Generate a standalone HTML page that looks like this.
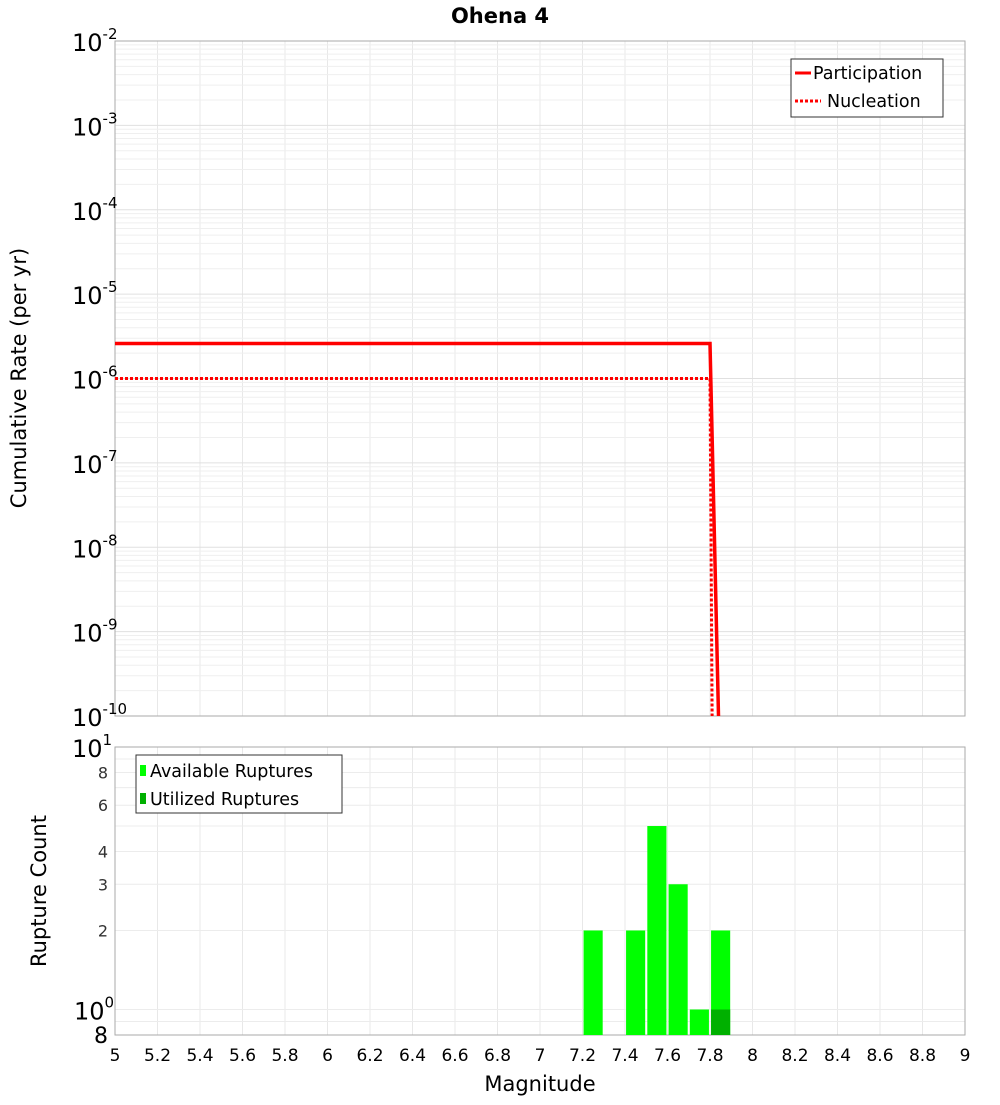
<!DOCTYPE html>
<html><head><meta charset="utf-8"><style>
body{margin:0;background:#fff;}
svg text{font-family:"DejaVu Sans","Liberation Sans",sans-serif;}
</style></head><body>
<svg id="c" width="1000" height="1100" xmlns="http://www.w3.org/2000/svg">
<text x="500" y="23" text-anchor="middle" font-size="21" font-weight="bold">Ohena 4</text>
<g id="grid"></g>
<rect x="115" y="41" width="850" height="675" fill="none" stroke="#aaa"/>
<rect x="115" y="747" width="850" height="288" fill="none" stroke="#aaa"/>
<g id="marks"></g>
<g id="ticks"></g>
<text transform="translate(26,378) rotate(-90)" text-anchor="middle" font-size="21">Cumulative Rate (per yr)</text>
<text transform="translate(46,891) rotate(-90)" text-anchor="middle" font-size="21">Rupture Count</text>
<text x="540" y="1091" text-anchor="middle" font-size="21">Magnitude</text>
<g>
<rect x="791" y="59" width="152" height="58" fill="#fff" stroke="#333"/>
<line x1="795" y1="73" x2="811" y2="73" stroke="#f00" stroke-width="3"/>
<text x="813" y="79" font-size="17.5">Participation</text>
<line x1="795" y1="101" x2="821" y2="101" stroke="#f00" stroke-width="3" stroke-dasharray="3,2"/>
<text x="827" y="107" font-size="17.5">Nucleation</text>
</g>
<g>
<rect x="136" y="755" width="206" height="58" fill="#fff" stroke="#333"/>
<rect x="140" y="765" width="6" height="11" fill="#00ff00"/>
<text x="150" y="777" font-size="17.5">Available Ruptures</text>
<rect x="140" y="793" width="6" height="11" fill="#00b000"/>
<text x="150" y="805" font-size="17.5">Utilized Ruptures</text>
</g>
</svg>
<script>
const partMag=[5.0,7.8,7.84];
const partRate=[2.6e-6,2.6e-6,1e-10];
const nuclMag=[5.0,7.8,7.81];
const nuclRate=[1e-6,1e-6,1e-10];
const binMag=[7.25,7.45,7.55,7.65,7.75,7.85];
const availCount=[2,2,5,3,1,2];
const usedMag=[7.85];
const usedCount=[1];
const xTicks=[5,5.2,5.4,5.6,5.8,6,6.2,6.4,6.6,6.8,7,7.2,7.4,7.6,7.8,8,8.2,8.4,8.6,8.8,9];
const topExps=[-2,-3,-4,-5,-6,-7,-8,-9,-10];
const botTicks=[2,3,4,6,8];
const NS="http://www.w3.org/2000/svg";
const X=m=>115+(m-5)*212.5;
const YT=v=>41+(-2-Math.log10(v))*84.375;
const YB=v=>747+(1-Math.log10(v))*262.5;
function mk(p,t,a){const e=document.createElementNS(NS,t);for(const k in a)e.setAttribute(k,a[k]);p.appendChild(e);return e;}
const g=document.getElementById('grid'),mG=document.getElementById('marks'),tG=document.getElementById('ticks');
xTicks.forEach(m=>{
 const l1=mk(g,'line',{x1:X(m),x2:X(m),y1:41,y2:716,stroke:'#e8e8e8'});
 
 
 const l2=mk(g,'line',{x1:X(m),x2:X(m),y1:747,y2:1035,stroke:'#e8e8e8'});
 
 
 const t=mk(tG,'text',{x:X(m),y:1061,'text-anchor':'middle','font-size':17});
 
 
 t.textContent=String(m);
});
for(let e=-10;e<-2;e++)for(let k=1;k<10;k++){
 const y=YT(k*Math.pow(10,e));
 const l=mk(g,'line',{x1:115,x2:965,y1:y,y2:y,stroke:k==1?'#e0e0e0':'#efefef'});
 
 
}
[0.8,0.9,1,2,3,4,5,6,7,8,9].forEach(v=>{
 const l=mk(g,'line',{x1:115,x2:965,y1:YB(v),y2:YB(v),stroke:'#ececec'});
 
 
});
topExps.forEach(e=>{
 const y=YT(Math.pow(10,e));
 const t=mk(tG,'text',{x:72,y:y+10,'font-size':24});
 
 
 t.innerHTML='10<tspan dy="-12" font-size="15">'+e+'</tspan>';
});
[[10,'10','1'],[1,'10','0']].forEach(([v,b,s])=>{
 const t=mk(tG,'text',{x:v==10?72:74,y:YB(v)+10,'font-size':24});
 
 
 t.innerHTML=b+'<tspan dy="-12" font-size="15">'+s+'</tspan>';
});
botTicks.forEach(v=>{
 const t=mk(tG,'text',{x:108,y:YB(v)+6,'text-anchor':'end','font-size':16,fill:'#333'});
 
 
 t.textContent=v;
});
const t8=mk(tG,'text',{x:108,y:1043,'text-anchor':'end','font-size':22});


t8.textContent='8';
binMag.forEach((m,i)=>{
 const y=YB(availCount[i]);
 const r=mk(mG,'rect',{x:X(m-0.045),y:y,width:0.09*212.5,height:1035-y,fill:'#00ff00'});
 
 
});
usedMag.forEach((m,i)=>{
 const y=YB(usedCount[i]);
 const r=mk(mG,'rect',{x:X(m-0.045),y:y,width:0.09*212.5,height:1035-y,fill:'#00b000'});
 
 
});
const cp=(ms,rs)=>ms.map((m,i)=>X(m)+','+Math.min(716,YT(rs[i]))).join(' ');
const n=mk(mG,'polyline',{points:cp(nuclMag,nuclRate),fill:'none',stroke:'#f00','stroke-width':3,'stroke-dasharray':'3,2'});


const p=mk(mG,'polyline',{points:cp(partMag,partRate),fill:'none',stroke:'#f00','stroke-width':3.5});


</script>
</body></html>
